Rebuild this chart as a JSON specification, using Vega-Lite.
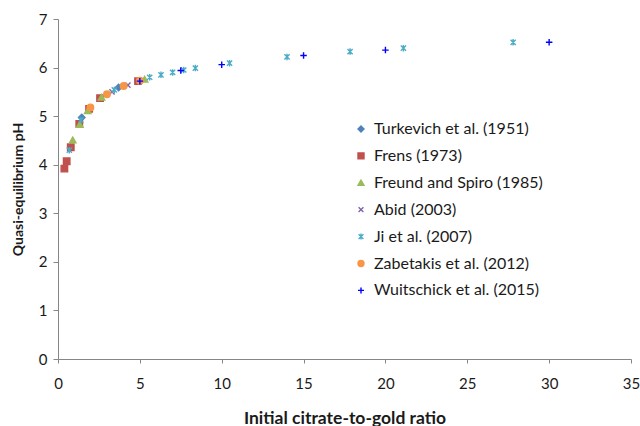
{
  "$schema": "https://vega.github.io/schema/vega-lite/v6.json",
  "width": 573,
  "height": 340,
  "autosize": {"type": "none"},
  "padding": {"left": 58, "top": 19, "right": 9, "bottom": 67},
  "background": "white",
  "config": {
    "view": {"stroke": null},
    "font": "Lato",
    "axis": {
      "grid": false,
      "domainColor": "#868686",
      "tickColor": "#868686",
      "domainWidth": 1,
      "tickWidth": 1,
      "labelFont": "Lato",
      "labelFontSize": 15,
      "labelColor": "#1a1a1a",
      "titleFont": "Lato",
      "titleFontWeight": "bold",
      "titleColor": "#1a1a1a"
    },
    "legend": {
      "labelFont": "Lato",
      "labelFontSize": 16,
      "labelColor": "#1a1a1a",
      "labelLimit": 400
    }
  },
  "data": {
    "values": [
      {"study": "Turkevich et al. (1951)", "ratio": 1.45, "pH": 4.97},
      {"study": "Turkevich et al. (1951)", "ratio": 3.7, "pH": 5.59},
      {"study": "Frens (1973)", "ratio": 0.39, "pH": 3.92},
      {"study": "Frens (1973)", "ratio": 0.53, "pH": 4.07},
      {"study": "Frens (1973)", "ratio": 0.78, "pH": 4.36},
      {"study": "Frens (1973)", "ratio": 1.3, "pH": 4.84},
      {"study": "Frens (1973)", "ratio": 1.9, "pH": 5.15},
      {"study": "Frens (1973)", "ratio": 2.57, "pH": 5.37},
      {"study": "Frens (1973)", "ratio": 4.89, "pH": 5.72},
      {"study": "Freund and Spiro (1985)", "ratio": 0.9, "pH": 4.51},
      {"study": "Freund and Spiro (1985)", "ratio": 1.33, "pH": 4.83},
      {"study": "Freund and Spiro (1985)", "ratio": 1.81, "pH": 5.11},
      {"study": "Freund and Spiro (1985)", "ratio": 2.66, "pH": 5.39},
      {"study": "Freund and Spiro (1985)", "ratio": 5.29, "pH": 5.76},
      {"study": "Abid (2003)", "ratio": 3.3, "pH": 5.5},
      {"study": "Abid (2003)", "ratio": 4.27, "pH": 5.64},
      {"study": "Ji et al. (2007)", "ratio": 0.69, "pH": 4.3},
      {"study": "Ji et al. (2007)", "ratio": 1.4, "pH": 4.92},
      {"study": "Ji et al. (2007)", "ratio": 3.44, "pH": 5.54},
      {"study": "Ji et al. (2007)", "ratio": 5.6, "pH": 5.8},
      {"study": "Ji et al. (2007)", "ratio": 6.29, "pH": 5.85},
      {"study": "Ji et al. (2007)", "ratio": 7.0, "pH": 5.9},
      {"study": "Ji et al. (2007)", "ratio": 7.68, "pH": 5.95},
      {"study": "Ji et al. (2007)", "ratio": 8.39, "pH": 5.99},
      {"study": "Ji et al. (2007)", "ratio": 10.48, "pH": 6.09},
      {"study": "Ji et al. (2007)", "ratio": 13.99, "pH": 6.22},
      {"study": "Ji et al. (2007)", "ratio": 17.84, "pH": 6.33},
      {"study": "Ji et al. (2007)", "ratio": 21.1, "pH": 6.4},
      {"study": "Ji et al. (2007)", "ratio": 27.8, "pH": 6.52},
      {"study": "Zabetakis et al. (2012)", "ratio": 1.98, "pH": 5.18},
      {"study": "Zabetakis et al. (2012)", "ratio": 2.99, "pH": 5.45},
      {"study": "Zabetakis et al. (2012)", "ratio": 4.01, "pH": 5.62},
      {"study": "Zabetakis et al. (2012)", "ratio": 5.0, "pH": 5.73},
      {"study": "Wuitschick et al. (2015)", "ratio": 5.0, "pH": 5.72},
      {"study": "Wuitschick et al. (2015)", "ratio": 7.5, "pH": 5.94},
      {"study": "Wuitschick et al. (2015)", "ratio": 10.0, "pH": 6.06},
      {"study": "Wuitschick et al. (2015)", "ratio": 15.0, "pH": 6.25},
      {"study": "Wuitschick et al. (2015)", "ratio": 20.0, "pH": 6.36},
      {"study": "Wuitschick et al. (2015)", "ratio": 30.0, "pH": 6.52}
    ]
  },
  "mark": {"type": "point", "size": 42, "strokeWidth": 1.4, "opacity": 1},
  "encoding": {
    "x": {
      "field": "ratio",
      "type": "quantitative",
      "title": "Initial citrate-to-gold ratio",
      "scale": {"domain": [0, 35], "nice": false, "zero": true},
      "axis": {"values": [0, 5, 10, 15, 20, 25, 30, 35], "tickSize": 4, "labelPadding": 13, "titlePadding": 18, "titleFontSize": 17.5, "labelFlush": false}
    },
    "y": {
      "field": "pH",
      "type": "quantitative",
      "title": "Quasi-equilibrium pH",
      "scale": {"domain": [0, 7], "nice": false},
      "axis": {"values": [0, 1, 2, 3, 4, 5, 6, 7], "tickSize": 5, "labelPadding": 6, "titlePadding": 13, "titleFontSize": 14}
    },
    "shape": {
      "field": "study",
      "type": "nominal",
      "scale": {
        "domain": ["Turkevich et al. (1951)", "Frens (1973)", "Freund and Spiro (1985)", "Abid (2003)", "Ji et al. (2007)", "Zabetakis et al. (2012)", "Wuitschick et al. (2015)"],
        "range": ["diamond", "square", "triangle-up", "M-0.8,-0.8L0.8,0.8M-0.8,0.8L0.8,-0.8", "M-0.8,-0.8L0.8,0.8M-0.8,0.8L0.8,-0.8M0,-1L0,1", "circle", "M-1,0L1,0M0,-1L0,1"]
      },
      "legend": {
        "title": null,
        "orient": "none",
        "legendX": 295,
        "legendY": 102,
        "symbolSize": 36,
        "symbolStrokeWidth": 1.4,
        "rowPadding": 10.9,
        "labelOffset": 5,
        "labelLimit": 400,
        "padding": 0
      }
    },
    "fill": {
      "field": "study",
      "type": "nominal",
      "scale": {
        "domain": ["Turkevich et al. (1951)", "Frens (1973)", "Freund and Spiro (1985)", "Abid (2003)", "Ji et al. (2007)", "Zabetakis et al. (2012)", "Wuitschick et al. (2015)"],
        "range": ["#4F81BD", "#C0504D", "#9BBB59", "transparent", "transparent", "#F79646", "transparent"]
      }
    },
    "stroke": {
      "field": "study",
      "type": "nominal",
      "scale": {
        "domain": ["Turkevich et al. (1951)", "Frens (1973)", "Freund and Spiro (1985)", "Abid (2003)", "Ji et al. (2007)", "Zabetakis et al. (2012)", "Wuitschick et al. (2015)"],
        "range": ["#4F81BD", "#C0504D", "#9BBB59", "#8064A2", "#4BACC6", "#F79646", "#0000FF"]
      }
    }
  }
}
